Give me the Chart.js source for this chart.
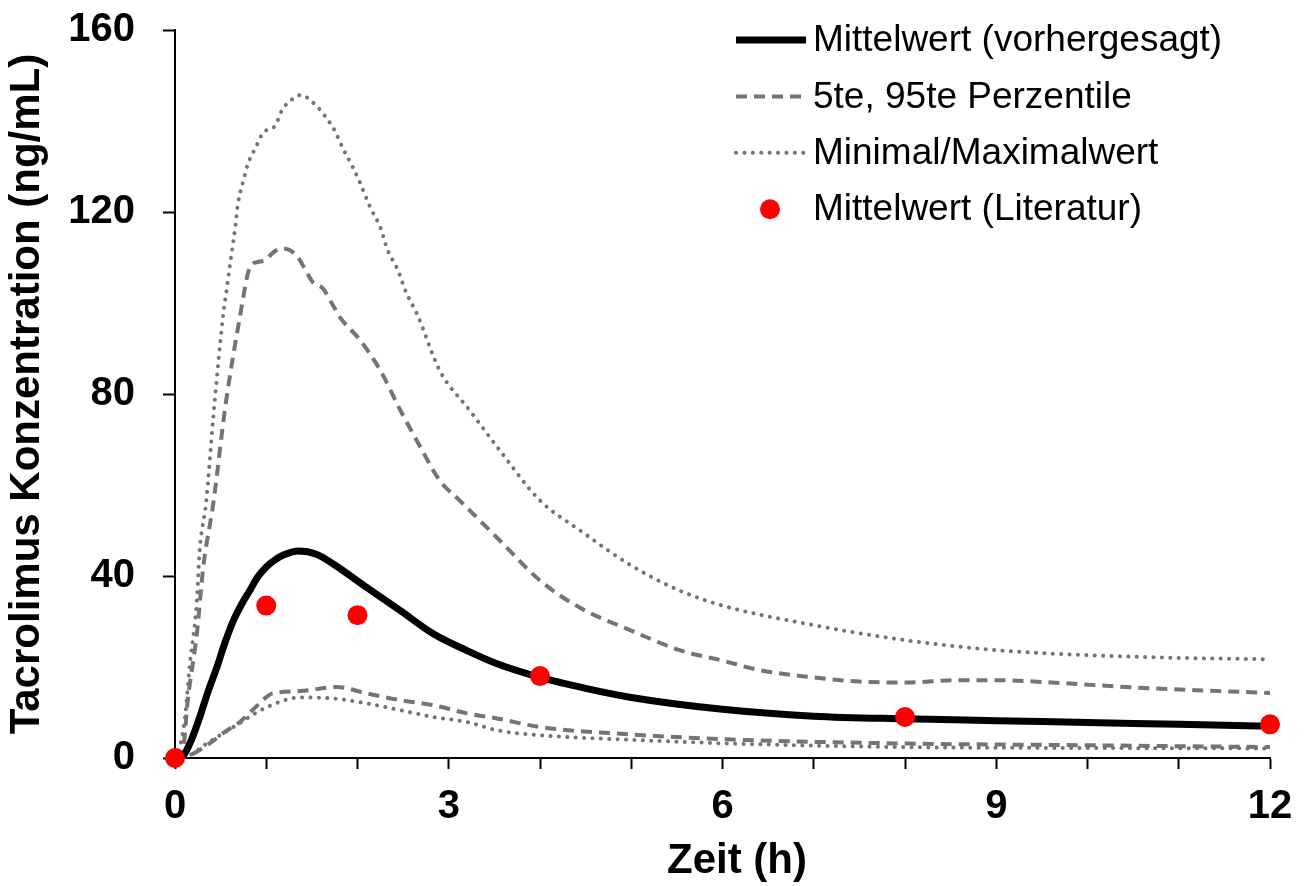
<!DOCTYPE html>
<html>
<head>
<meta charset="utf-8">
<title>Tacrolimus Konzentration</title>
<script src="https://cdn.jsdelivr.net/npm/chart.js@4.4.1/dist/chart.umd.min.js"></script>
<style>
  html, body { margin: 0; padding: 0; background: #fff; }
</style>
</head>
<body>
<canvas id="tacrolimus" width="1311" height="886"></canvas>
<script>
// Mittelwert (vorhergesagt)
var zeitMittel = [0, 0.1, 0.18, 0.27, 0.36, 0.46, 0.55, 0.64, 0.73, 0.82, 0.9, 1.0, 1.1, 1.2, 1.35, 1.55, 1.73, 2.1, 2.47, 2.83, 3.2, 3.53, 4, 4.5, 5, 6, 7, 8, 9, 10, 11, 12];
var mittelVorhergesagt = [0, 0.8, 4, 8.9, 14.5, 20, 25.5, 30.2, 33.8, 36.8, 39.6, 42, 43.6, 44.7, 45.5, 44.8, 42.7, 37.5, 32.4, 27.3, 23.6, 20.7, 17.7, 15.3, 13.3, 10.7, 9.2, 8.6, 8.2, 7.8, 7.4, 7.0];

// 95te Perzentile
var zeitP95 = [0, 0.09, 0.14, 0.24, 0.31, 0.42, 0.55, 0.71, 0.82, 0.9, 0.99, 1.07, 1.17, 1.26, 1.35, 1.42, 1.51, 1.62, 1.72, 1.81, 2.03, 2.25, 2.47, 2.68, 2.9, 3.12, 3.56, 4.0, 4.44, 5.0, 5.53, 6.0, 6.41, 7.0, 7.5, 8.0, 8.6, 9.0, 9.6, 10.1, 10.7, 11.2, 12];
var perzentil95 = [0, 2.3, 12.7, 27.4, 42, 56, 77, 96.8, 107.8, 109, 109.4, 111, 112, 111.6, 110, 107.6, 104.6, 103.2, 99.9, 96.8, 91.8, 85.2, 76.4, 68.7, 61, 56.6, 47.8, 39, 33, 28, 23.7, 21.4, 19.3, 17.7, 16.8, 16.6, 17.1, 17.1, 16.6, 16, 15.3, 14.9, 14.3];

// 5te Perzentile
var zeitP5 = [0, 0.15, 0.38, 0.55, 0.71, 0.9, 1.07, 1.37, 1.77, 2.1, 2.47, 2.83, 3.2, 3.53, 4.0, 4.82, 6.05, 7.95, 10, 12];
var perzentil5 = [0, 0.5, 3.2, 5.8, 7.9, 11.5, 14.2, 14.7, 15.6, 14.2, 12.7, 11.6, 9.8, 8.7, 6.8, 5.4, 4.1, 3.2, 2.8, 2.4];

// Maximalwert
var zeitMax = [0, 0.05, 0.11, 0.16, 0.24, 0.27, 0.34, 0.42, 0.53, 0.57, 0.62, 0.66, 0.69, 0.75, 0.8, 0.88, 0.97, 1.1, 1.17, 1.3, 1.38, 1.51, 1.64, 1.75, 1.84, 1.95, 2.03, 2.14, 2.25, 2.33, 2.43, 2.54, 2.65, 2.9, 3.23, 3.56, 4.0, 4.44, 5.0, 5.53, 6.0, 7.0, 8.0, 9.0, 10.0, 11.0, 12];
var maximalwert = [0, 2.3, 9, 20, 34.7, 45.6, 56, 75, 97.7, 103.5, 110.9, 116.6, 121.8, 127, 130.6, 134, 137.5, 139, 142.3, 145, 145.7, 144.1, 141.2, 137.9, 134, 129.8, 126.3, 121, 116.6, 111.6, 107.8, 102, 97.7, 85.2, 76.4, 67.6, 56.6, 50, 42.3, 36.8, 33.5, 29.2, 25.9, 23.7, 22.6, 22, 21.7];

// Minimalwert
var zeitMin = [0, 0.15, 0.35, 0.64, 1.0, 1.37, 1.73, 2.1, 2.47, 2.83, 3.2, 3.53, 4.0, 5.0, 6.05, 7.95, 10, 12];
var minimalwert = [0, 0.5, 3.2, 6.8, 11.1, 13.3, 13.1, 12, 10.5, 9, 7.9, 6.1, 5, 4, 3.2, 2.4, 2.2, 2.1];

// Mittelwert (Literatur)
var zeitLiteratur = [0, 1, 2, 4, 8, 12];
var mittelLiteratur = [0, 33.5, 31.4, 18, 9, 7.4];

var xTicks = [0, 3, 6, 9, 12];

function punkte(zeit, werte) {
  return zeit.map(function (t, i) { return { x: t, y: werte[i] }; });
}

var grau = '#757373';
var schrift = '"Liberation Sans", Arial, sans-serif';

var datasets = [
  {
    label: 'Mittelwert (Literatur)',
    data: punkte(zeitLiteratur, mittelLiteratur),
    showLine: false,
    pointRadius: 10,
    pointBackgroundColor: '#ff0000',
    pointBorderWidth: 0,
    order: 0
  },
  {
    label: 'Mittelwert (vorhergesagt)',
    data: punkte(zeitMittel, mittelVorhergesagt),
    borderColor: '#000',
    borderWidth: 7,
    order: 1
  },
  {
    label: '5te, 95te Perzentile',
    data: punkte(zeitP95, perzentil95),
    borderColor: grau,
    borderWidth: 4,
    borderDash: [11, 7],
    order: 2
  },
  {
    label: '5te, 95te Perzentile',
    data: punkte(zeitP5, perzentil5),
    borderColor: grau,
    borderWidth: 4,
    borderDash: [11, 7],
    order: 2
  },
  {
    label: 'Minimal/Maximalwert',
    data: punkte(zeitMax, maximalwert),
    borderColor: grau,
    borderWidth: 4,
    borderDash: [0.1, 8.3],
    borderCapStyle: 'round',
    order: 3
  },
  {
    label: 'Minimal/Maximalwert',
    data: punkte(zeitMin, minimalwert),
    borderColor: grau,
    borderWidth: 4,
    borderDash: [0.1, 8.3],
    borderCapStyle: 'round',
    order: 3
  }
];

datasets.forEach(function (d) {
  d.clip = false;
  d.cubicInterpolationMode = 'monotone';
  if (d.showLine !== false) {
    d.pointRadius = 0;
    d.fill = false;
  }
});

// welche Datensaetze in der Legende stehen, in dieser Reihenfolge
var legendeReihenfolge = [1, 2, 4, 0];

var legendePlugin = {
  id: 'legende',
  afterDraw: function (chart) {
    var ctx = chart.ctx;
    ctx.save();
    ctx.font = '37px ' + schrift;
    ctx.textBaseline = 'middle';
    legendeReihenfolge.forEach(function (idx, i) {
      var ds = chart.data.datasets[idx];
      var y = 40 + i * 56.4;
      if (ds.showLine === false) {
        ctx.fillStyle = ds.pointBackgroundColor;
        ctx.beginPath();
        ctx.arc(770, y, ds.pointRadius, 0, Math.PI * 2);
        ctx.fill();
      } else {
        ctx.strokeStyle = ds.borderColor;
        ctx.lineWidth = ds.borderWidth;
        ctx.lineCap = ds.borderCapStyle || 'butt';
        ctx.setLineDash(ds.borderDash || []);
        ctx.beginPath();
        ctx.moveTo(736, y);
        ctx.lineTo(806, y);
        ctx.stroke();
        ctx.setLineDash([]);
      }
      ctx.fillStyle = '#000';
      ctx.fillText(ds.label, 813, y + 1);
    });

    // x-Achsentitel, etwas rechts von der Mitte
    ctx.font = 'bold 42px ' + schrift;
    ctx.textAlign = 'center';
    ctx.textBaseline = 'alphabetic';
    ctx.fillText('Zeit (h)', 737, 873);
    ctx.restore();
  }
};

new Chart(document.getElementById('tacrolimus'), {
  type: 'line',
  data: { datasets: datasets },
  plugins: [legendePlugin],
  options: {
    responsive: false,
    animation: false,
    events: [],
    layout: { padding: { top: 30, right: 41, left: 0, bottom: 0 } },
    plugins: {
      legend: { display: false },
      tooltip: { enabled: false }
    },
    scales: {
      x: {
        type: 'linear',
        min: 0,
        max: 12,
        border: { color: '#000', width: 2 },
        grid: { drawOnChartArea: false, drawTicks: true, tickLength: 11, tickWidth: 2, tickColor: '#000' },
        ticks: {
          stepSize: 1,
          autoSkip: false,
          maxRotation: 0,
          padding: 14,
          color: '#000',
          font: { family: schrift, size: 40, weight: 'bold' },
          callback: function (v) { return xTicks.indexOf(v) >= 0 ? String(v) : ''; }
        },
        afterFit: function (s) { s.height = 128; }
      },
      y: {
        min: 0,
        max: 160,
        border: { color: '#000', width: 2 },
        grid: { drawOnChartArea: false, drawTicks: true, tickLength: 12, tickWidth: 2, tickColor: '#000' },
        ticks: {
          stepSize: 40,
          padding: 28,
          color: '#000',
          font: { family: schrift, size: 40, weight: 'bold' }
        },
        title: {
          display: true,
          text: 'Tacrolimus Konzentration (ng/mL)',
          color: '#000',
          font: { family: schrift, size: 42, weight: 'bold' },
          padding: { top: 2, bottom: 0 }
        },
        afterFit: function (s) {
          s.width = 175;
          s.paddingTop = 0;
          s.paddingBottom = 0;
        }
      }
    }
  }
});
</script>
</body>
</html>
